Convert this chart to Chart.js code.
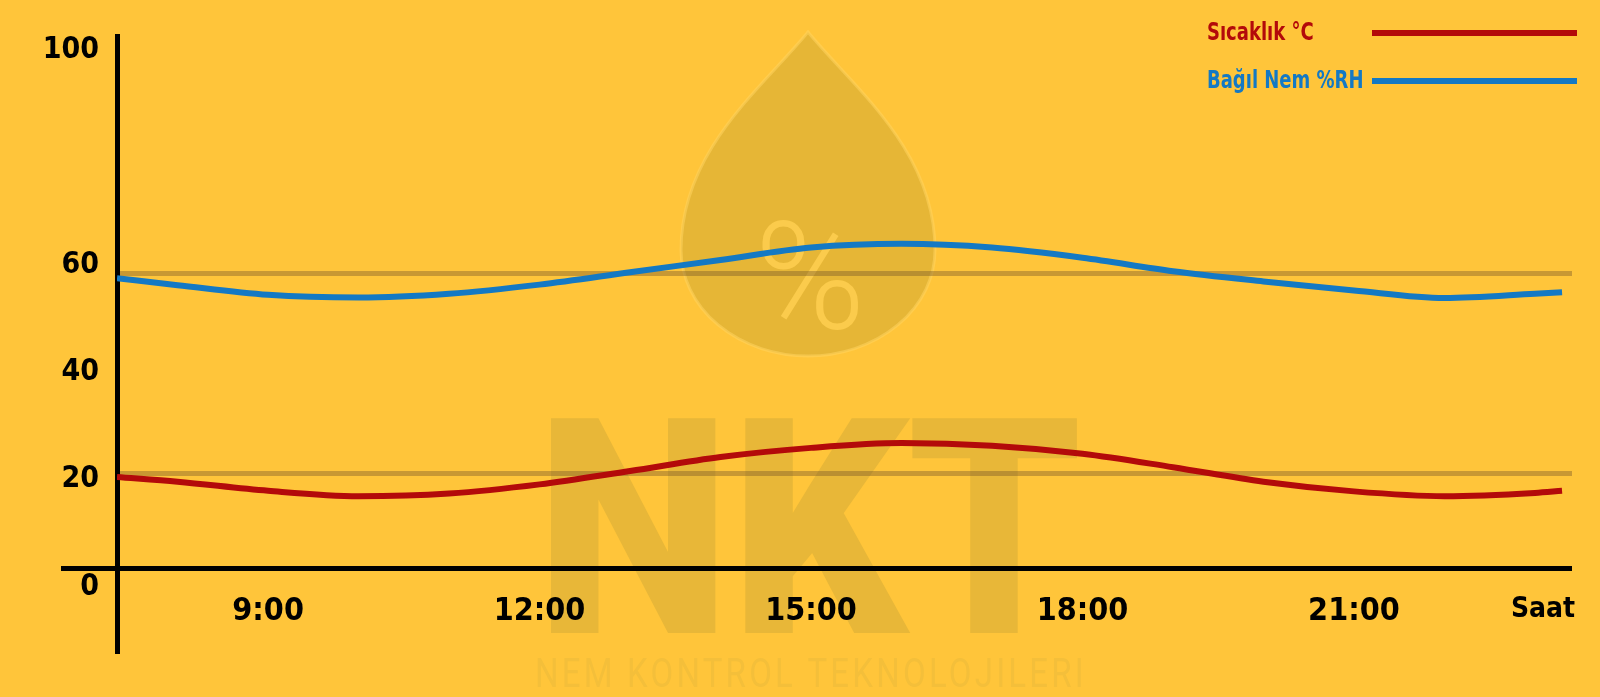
<!DOCTYPE html>
<html lang="tr">
<head>
<meta charset="utf-8">
<title>Sıcaklık ve Bağıl Nem</title>
<script src="https://cdn.jsdelivr.net/npm/chart.js@4.4.1/dist/chart.umd.min.js"></script>
<style>
  html, body { margin: 0; padding: 0; background: #FFC53A; overflow: hidden; }
  #wrap { width: 1600px; height: 697px; position: relative; }
</style>
</head>
<body>
<div id="wrap"><canvas id="chart"></canvas></div>
<script>
// values
const hours = [7.33, 8, 9, 10, 11, 12, 13, 14, 15, 16, 17, 18, 19, 20, 21, 22, 23, 23.3];
const temperature = [20.5, 19.6, 17.9, 16.9, 17.4, 19.1, 21.6, 24.2, 25.9, 26.8, 26.3, 24.8, 22.3, 19.6, 17.8, 16.9, 17.5, 17.9];
const humidity = [57.5, 56.2, 54.4, 53.9, 54.6, 56.3, 58.6, 60.9, 63.2, 63.9, 63.2, 61.3, 58.8, 56.9, 55.2, 53.8, 54.6, 54.9];

const xTickValues = [9, 12, 15, 18, 21, 23.09];
const xTickLabels = ['9:00', '12:00', '15:00', '18:00', '21:00', 'Saat'];
const yTickValues = [0, 20, 40, 60, 100];
const referenceLevels = [21.2, 58.3];
const baselineValue = 3.35;   // where the horizontal axis line sits
const hourMin = 7.33;
const hourMax = 23.41;

const BG = '#FFC53A';
const FONT = "'DejaVu Sans Condensed', 'Liberation Sans', sans-serif";

const toPoints = (ys) => hours.map((h, i) => ({ x: h, y: ys[i] }));

// text squeezed to a given width
function fitText(ctx, text, x, y, width) {
    const w = ctx.measureText(text).width;
    ctx.save();
    ctx.translate(x, y);
    ctx.scale(Math.min(1, width / w), 1);
    ctx.fillText(text, 0, 0);
    ctx.restore();
}

// background + NKT watermark
const watermark = {
    id: 'watermark',
    beforeDraw(chart) {
        const ctx = chart.ctx;
        ctx.save();
        ctx.fillStyle = BG;
        ctx.fillRect(0, 0, chart.width, chart.height);

        // drop
        const cx = 808, cy = 250, rx = 127, ry = 106, tipY = 32;
        ctx.beginPath();
        ctx.moveTo(cx, tipY);
        ctx.bezierCurveTo(cx + 45, tipY + 55, cx + rx, cy - 100, cx + rx, cy);
        ctx.ellipse(cx, cy, rx, ry, 0, 0, Math.PI, false);
        ctx.bezierCurveTo(cx - rx, cy - 100, cx - 45, tipY + 55, cx, tipY);
        ctx.closePath();
        ctx.fillStyle = '#E6B636';
        ctx.fill();
        ctx.lineWidth = 3;
        ctx.strokeStyle = 'rgba(255, 212, 95, 0.55)';
        ctx.stroke();

        ctx.fillStyle = '#FBCB4C';
        ctx.font = "300 150px Roboto, 'Open Sans', sans-serif";
        ctx.textAlign = 'center';
        ctx.textBaseline = 'alphabetic';
        ctx.fillText('%', 810, 328);

        // NKT
        ctx.fillStyle = '#E8B738';
        ctx.font = "900 302px Roboto, 'DejaVu Sans', sans-serif";
        ctx.letterSpacing = '0px';
        fitText(ctx, 'NKT', 809, 633, 546);

        ctx.fillStyle = '#F4BF3A';
        ctx.font = "400 41px Roboto, 'DejaVu Sans', sans-serif";
        ctx.letterSpacing = '4px';
        fitText(ctx, 'NEM KONTROL TEKNOLOJILERI', 811, 687, 552);
        ctx.letterSpacing = '0px';
        ctx.restore();
    }
};

// legend: text on the left, line sample on the right
const sideLegend = {
    id: 'sideLegend',
    afterDraw(chart) {
        const ctx = chart.ctx;
        ctx.save();
        chart.data.datasets.forEach((ds, i) => {
            const y = 33 + i * 48;
            ctx.fillStyle = ds.borderColor;
            ctx.font = "bold 25px " + FONT;
            ctx.textAlign = 'left';
            ctx.textBaseline = 'middle';
            const w = ctx.measureText(ds.label).width * 0.8;
            fitText(ctx, ds.label, 1207, y, w);
            ctx.strokeStyle = ds.borderColor;
            ctx.lineWidth = 6;
            ctx.beginPath();
            ctx.moveTo(1372, y);
            ctx.lineTo(1577, y);
            ctx.stroke();
        });
        ctx.restore();
    }
};

const ctx = document.getElementById('chart').getContext('2d');
new Chart(ctx, {
    type: 'line',
    data: {
        datasets: [{
            label: 'Sıcaklık °C',
            data: toPoints(temperature),
            borderColor: '#B30A0A',
            borderWidth: 6,
            pointRadius: 0,
            cubicInterpolationMode: 'monotone',
            fill: false
        }, {
            label: 'Bağıl Nem %RH',
            data: toPoints(humidity),
            borderColor: '#1479C4',
            borderWidth: 6,
            pointRadius: 0,
            cubicInterpolationMode: 'monotone',
            fill: false
        }]
    },
    options: {
        responsive: true,
        maintainAspectRatio: false,
        animation: false,
        layout: { padding: { top: 36, right: 28, bottom: 44, left: 0 } },
        plugins: {
            legend: { display: false },
            tooltip: { enabled: false }
        },
        scales: {
            x: {
                type: 'linear',
                axis: 'x',
                position: { y: baselineValue },
                min: hourMin,
                max: hourMax,
                afterBuildTicks: (scale) => { scale.ticks = xTickValues.map(v => ({ value: v })); },
                afterFit: (scale) => { scale.height = 0; },
                grid: { display: false },
                border: { display: false },
                ticks: {
                    autoSkip: false,
                    maxRotation: 0,
                    padding: 16,
                    color: '#000',
                    font: (c) => ({ family: FONT, weight: 'bold', size: c.index === 5 ? 28 : 32 }),
                    callback: (v, i) => xTickLabels[i]
                }
            },
            y: {
                min: -12.3,
                max: 102.6,
                afterBuildTicks: (scale) => {
                    scale.ticks = [...yTickValues, baselineValue, ...referenceLevels]
                        .sort((a, b) => a - b)
                        .map(v => ({ value: v }));
                },
                afterFit: (scale) => { scale.width = 117; },
                border: { display: true, color: '#000', width: 5 },
                grid: {
                    drawOnChartArea: true,
                    drawTicks: true,
                    tickLength: 56,
                    color: (c) => c.tick && c.tick.value === baselineValue ? '#000'
                        : (c.tick && referenceLevels.includes(c.tick.value) ? 'rgba(110, 80, 40, 0.38)' : 'rgba(0,0,0,0)'),
                    lineWidth: (c) => c.tick && (c.tick.value === baselineValue || referenceLevels.includes(c.tick.value)) ? 5 : 1,
                    tickColor: (c) => c.tick && c.tick.value === baselineValue ? '#000' : 'rgba(0,0,0,0)',
                    tickWidth: (c) => c.tick && c.tick.value === baselineValue ? 5 : 1
                },
                ticks: {
                    autoSkip: false,
                    padding: -38,
                    color: '#000',
                    font: { family: FONT, weight: 'bold', size: 30 },
                    callback: (v) => yTickValues.includes(v) ? String(v) : ''
                }
            }
        }
    },
    plugins: [watermark, sideLegend]
});
</script>
</body>
</html>
